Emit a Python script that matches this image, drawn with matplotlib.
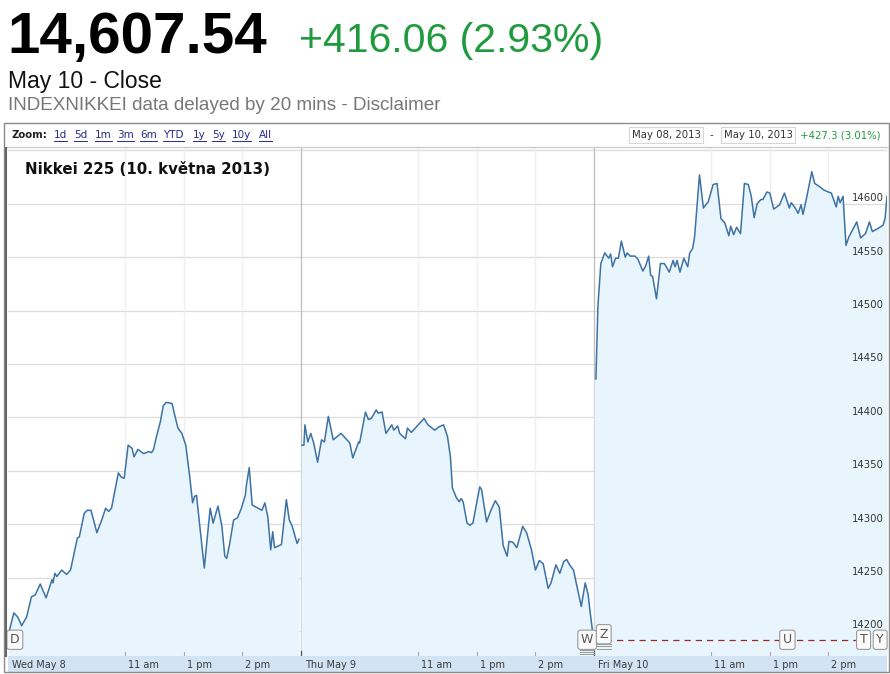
import matplotlib
matplotlib.use("Agg")
import matplotlib.pyplot as plt
from matplotlib.patches import Rectangle
from matplotlib.lines import Line2D

W, H = 890, 674

# minutes since 9:00 open, lunch break squeezed out (300 trading minutes a day)
wed_min = [1, 6, 10, 14, 19, 24, 28, 33, 39, 45, 46, 48, 50, 55, 60, 64, 71, 73, 78, 81,
           85, 91, 96, 100, 103, 106, 113, 116, 119, 123, 127, 129, 133, 139, 144, 147, 149, 152, 156, 159,
           162, 168, 171, 174, 178, 182, 186, 189, 191, 193, 201, 207, 210, 215, 219, 222, 224, 227, 231, 235,
           239, 243, 244, 247, 250, 256, 260, 263, 266, 269, 271, 273, 280, 285, 288, 291, 296, 298]
wed_val = [14199, 14217, 14213, 14205, 14213, 14232, 14234, 14244, 14231, 14248, 14245, 14254, 14251, 14257, 14253, 14257, 14287, 14288, 14310, 14313,
           14313, 14292, 14304, 14315, 14312, 14315, 14348, 14344, 14343, 14374, 14371, 14363, 14370, 14366, 14368, 14367, 14370, 14382, 14396, 14411,
           14414, 14413, 14401, 14390, 14385, 14374, 14345, 14320, 14326, 14327, 14259, 14315, 14301, 14317, 14298, 14270, 14268, 14282, 14304, 14306,
           14315, 14327, 14336, 14353, 14318, 14315, 14313, 14320, 14307, 14276, 14293, 14278, 14281, 14323, 14304, 14298, 14282, 14286]

thu_min = [1, 3, 4, 7, 10, 13, 17, 21, 24, 28, 33, 41, 47, 50, 53, 59, 60, 66, 69, 72,
           77, 79, 83, 87, 93, 95, 99, 101, 107, 109, 113, 120, 126, 130, 137, 141, 146, 150, 153, 155,
           159, 162, 164, 166, 170, 173, 176, 183, 185, 190, 194, 199, 203, 207, 211, 213, 217, 221, 227, 231,
           236, 240, 244, 248, 253, 256, 261, 265, 269, 272, 275, 279, 283, 287, 291, 294, 296, 299]
thu_val = [14374, 14374, 14393, 14377, 14385, 14376, 14358, 14379, 14377, 14401, 14379, 14385, 14379, 14376, 14362, 14377, 14376, 14405, 14398, 14399,
           14407, 14404, 14405, 14385, 14393, 14388, 14392, 14385, 14380, 14390, 14386, 14393, 14399, 14393, 14388, 14391, 14393, 14382, 14363, 14334,
           14325, 14321, 14324, 14321, 14301, 14299, 14301, 14335, 14332, 14302, 14312, 14322, 14316, 14280, 14270, 14284, 14283, 14278, 14298, 14292,
           14276, 14257, 14266, 14263, 14240, 14245, 14262, 14254, 14265, 14267, 14262, 14257, 14240, 14223, 14245, 14234, 14218, 14196]

fri_min = [2, 4, 7, 11, 15, 17, 19, 22, 25, 28, 32, 34, 37, 42, 45, 50, 53, 56, 58, 60,
           64, 68, 72, 74, 77, 81, 83, 85, 88, 92, 96, 98, 101, 103, 108, 112, 117, 122, 126, 130,
           134, 138, 140, 143, 146, 150, 154, 158, 161, 164, 167, 171, 173, 177, 180, 184, 190, 195, 200, 202,
           206, 209, 212, 214, 218, 223, 226, 231, 235, 240, 243, 248, 250, 252, 255, 258, 261, 265, 269, 273,
           278, 282, 285, 291, 296, 298, 300]
fri_val = [14436, 14504, 14544, 14554, 14549, 14553, 14541, 14549, 14549, 14565, 14550, 14554, 14551, 14551, 14548, 14537, 14542, 14551, 14533, 14532,
           14511, 14544, 14544, 14541, 14536, 14547, 14541, 14547, 14536, 14549, 14541, 14554, 14558, 14569, 14627, 14596, 14602, 14618, 14619, 14586,
           14582, 14570, 14579, 14571, 14578, 14572, 14619, 14618, 14607, 14587, 14600, 14604, 14604, 14611, 14610, 14595, 14599, 14610, 14596, 14601,
           14596, 14591, 14599, 14590, 14607, 14630, 14619, 14616, 14613, 14611, 14610, 14597, 14607, 14601, 14607, 14561, 14569, 14576, 14583, 14568,
           14572, 14583, 14574, 14577, 14580, 14586, 14607]

days = ["Wed May 8", "Thu May 9", "Fri May 10"]
hour_ticks = [120, 180, 240]
hour_labels = ["11 am", "1 pm", "2 pm"]
y_ticks = [14200, 14250, 14300, 14350, 14400, 14450, 14500, 14550, 14600, 14650]
prev_close = 14191.48

# news flags: letter, minute on the 3-day axis
flags = [("D", 7), ("W", 593), ("Z", 610), ("U", 798), ("T", 876), ("Y", 893)]

zoom_links = ["1d", "5d", "1m", "3m", "6m", "YTD", "1y", "5y", "10y", "All"]

line_c = "#3d72a4"
fill_c = "#e9f5fd"
grid_c = "#dcdcdc"
green = "#1f9a3e"


def fx(x):
    return x / W


def fy(y):
    return 1 - y / H


fig = plt.figure(figsize=(W / 100, H / 100), dpi=100)
fig.patch.set_facecolor("white")

# header
fig.text(fx(7), fy(53), "14,607.54", fontsize=42, fontweight="bold",
         family="Liberation Sans", va="baseline", color="black")
fig.text(fx(299), fy(52), "+416.06 (2.93%)", fontsize=29.5,
         family="Liberation Sans", va="baseline", color=green)
fig.text(fx(8), fy(88), "May 10 - Close", fontsize=16.5,
         family="Liberation Sans", va="baseline", color="#111111")
fig.text(fx(8), fy(110), "INDEXNIKKEI data delayed by 20 mins - Disclaimer", fontsize=13.6,
         family="Liberation Sans", va="baseline", color="#777777")

# chart frame and zoom bar
fig.patches.append(Rectangle((fx(4), fy(672)), fx(885), 549 / H, transform=fig.transFigure,
                             fill=False, ec="#8a8a8a", lw=1.0))
fig.lines.append(Line2D([fx(5), fx(888)], [fy(147), fy(147)], transform=fig.transFigure,
                        color="#cccccc", lw=1))
fig.lines.append(Line2D([fx(5.5), fx(5.5)], [fy(148), fy(656)], transform=fig.transFigure,
                        color="#666666", lw=1.5))

fig.text(fx(12), fy(135), "Zoom:", fontsize=7.3, fontweight="bold", va="center", color="#222222")
link_x = [54, 74, 95, 117, 140, 163, 193, 212, 232, 259]
link_texts = []
for lx, lab in zip(link_x, zoom_links):
    link_texts.append(fig.text(fx(lx), fy(135), lab, fontsize=7.5, va="center", color="#2a2a8a"))

box = dict(boxstyle="square,pad=0.25", fc="white", ec="#d6d6d6", lw=0.8)
fig.text(fx(632), fy(135), "May 08, 2013", fontsize=7.3, va="center", color="#333333", bbox=box)
fig.text(fx(710), fy(135), "-", fontsize=7.3, va="center", color="#333333")
fig.text(fx(724), fy(135), "May 10, 2013", fontsize=7.3, va="center", color="#333333", bbox=box)
fig.text(fx(800), fy(135), "+427.3 (3.01%)", fontsize=7.3, va="center", color=green)

# main plot
ax = fig.add_axes([fx(8), fy(656), 879 / W, 508 / H])
ax.set_xlim(0, 900)
ax.set_ylim(14176.6, 14652.2)
for s in ax.spines.values():
    s.set_visible(False)
ax.set_xticks([])
ax.set_yticks([])

for v in y_ticks:
    ax.axhline(v, color=grid_c, lw=0.9, zorder=1)
    ax.text(897, v + 0.5, str(v), ha="right", va="bottom", fontsize=7.3,
            color="#333333", zorder=6, clip_on=True)

for d in range(3):
    for h in hour_ticks:
        ax.axvline(d * 300 + h, color="#efefef", lw=0.9, zorder=1)
    if d > 0:
        ax.axvline(d * 300, color="#bdbdbd", lw=0.9, zorder=1)

for d, (mins, vals) in enumerate([(wed_min, wed_val), (thu_min, thu_val), (fri_min, fri_val)]):
    xs = [d * 300 + m for m in mins]
    ax.fill_between([d * 300] + xs, [vals[0]] + vals, 14100, color=fill_c, lw=0, zorder=2)
    ax.plot(xs, vals, color=line_c, lw=1.1, zorder=4)

ax.plot([600, 900], [prev_close, prev_close], color="#9a2a2a", lw=0.9,
        dashes=(5, 4), zorder=5)

for letter, m in flags:
    yv = prev_close + (5.5 if letter == "Z" else 0.3)
    if letter in ("W", "Z"):
        for k in range(1, 4):
            ax.plot([m - 7, m + 7], [yv - 7 - 2.2 * k] * 2, color="#9a9a9a", lw=0.7, zorder=6)
    ax.text(m, yv, letter, ha="center", va="center", fontsize=9, color="#555555", zorder=7,
            bbox=dict(boxstyle="round,pad=0.25,rounding_size=0.2", fc="#fafafa", ec="#9a9a9a", lw=0.8))

# x axis band
bx = fig.add_axes([fx(8), fy(672), 879 / W, 16 / H])
bx.set_xlim(0, 900)
bx.set_ylim(0, 1)
bx.set_facecolor("#d2e3f3")
for s in bx.spines.values():
    s.set_visible(False)
bx.set_xticks([])
bx.set_yticks([])
for d in range(3):
    bx.text(d * 300 + 4, 0.45, days[d], fontsize=7, va="center", color="#3a3a3a")
    for h, lab in zip(hour_ticks, hour_labels):
        bx.text(d * 300 + h + 3, 0.45, lab, fontsize=7, va="center", color="#3a3a3a")
        ax.plot([d * 300 + h] * 2, [14176.6, 14180.5], color="#aaaaaa", lw=0.8, zorder=3)
    if d > 0:
        ax.plot([d * 300] * 2, [14176.6, 14181.5], color="#555555", lw=0.9, zorder=3)

# underline the zoom links
fig.canvas.draw()
r = fig.canvas.get_renderer()
for t in link_texts:
    bb = t.get_window_extent(r)
    fig.lines.append(Line2D([bb.x0 / W, bb.x1 / W], [fy(141), fy(141)], transform=fig.transFigure,
                            color="#2a2a8a", lw=0.7))

fig.text(fx(25), fy(170), "Nikkei 225 (10. května 2013)", fontsize=10.8, fontweight="bold",
         va="center", color="#111111")

fig.savefig("out.png", dpi=100)
